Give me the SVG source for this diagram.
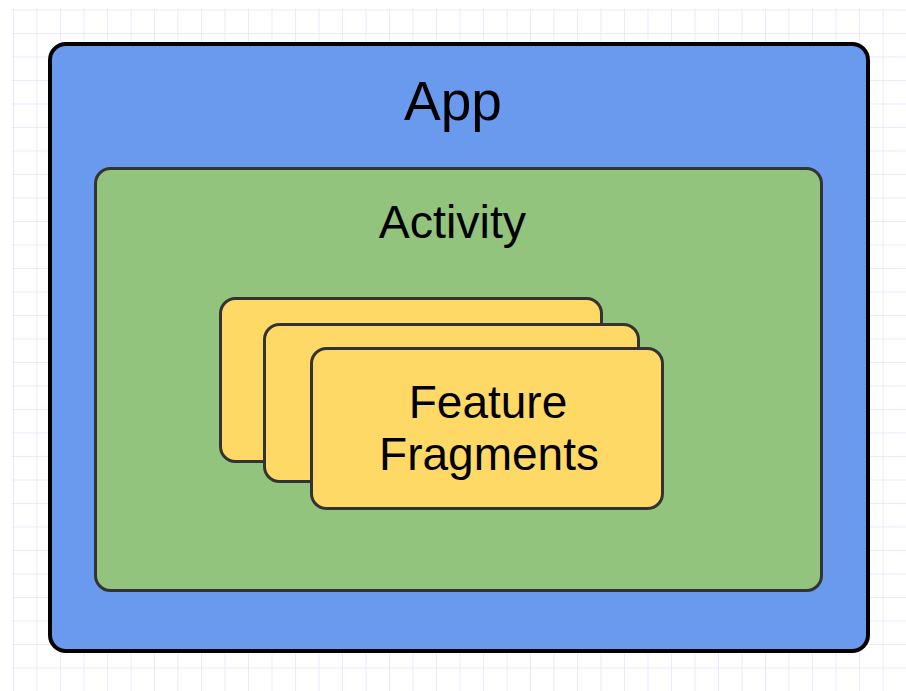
<svg xmlns="http://www.w3.org/2000/svg" width="906" height="691" viewBox="0 0 906 691">
  <style>
    .lbl { font-family: "Liberation Sans", Arial, sans-serif; fill: #000; text-anchor: middle; }
    .frag { fill: #ffd966; stroke: #333; stroke-width: 3; }
  </style>
  <defs>
    <pattern id="grid" x="13" y="9.5" width="23.5" height="23.5" patternUnits="userSpaceOnUse">
      <path d="M0 0 H23.5 M0 0 V23.5" fill="none" stroke="#e4e4fb" stroke-width="1.5"/>
    </pattern>
  </defs>
  <rect width="906" height="691" fill="#ffffff"/>
  <rect x="12" y="8.5" width="894" height="682.5" fill="url(#grid)"/>

  <g id="app">
    <rect x="50" y="44" width="818" height="607" rx="16" fill="#6a9aee" stroke="#000" stroke-width="4"/>
    <text class="lbl" x="453" y="120" font-size="55">App</text>
  </g>

  <g id="activity">
    <rect x="95.5" y="168.5" width="726" height="422" rx="15" fill="#93c47d" stroke="#333" stroke-width="3"/>
    <text class="lbl" x="452.5" y="238" font-size="46.5">Activity</text>
  </g>

  <g id="fragment-back">
    <rect class="frag" x="220.5" y="298.5" width="381" height="163" rx="15" stroke="#111"/>
  </g>
  <g id="fragment-middle">
    <rect class="frag" x="264.5" y="324.5" width="374" height="157" rx="15"/>
  </g>
  <g id="feature-fragments">
    <rect class="frag" x="311.5" y="348.5" width="351" height="160" rx="15"/>
    <text class="lbl" x="488" y="418" font-size="46">Feature</text>
    <text class="lbl" x="489" y="470" font-size="46">Fragments</text>
  </g>

  <g id="connectors"/>
</svg>
